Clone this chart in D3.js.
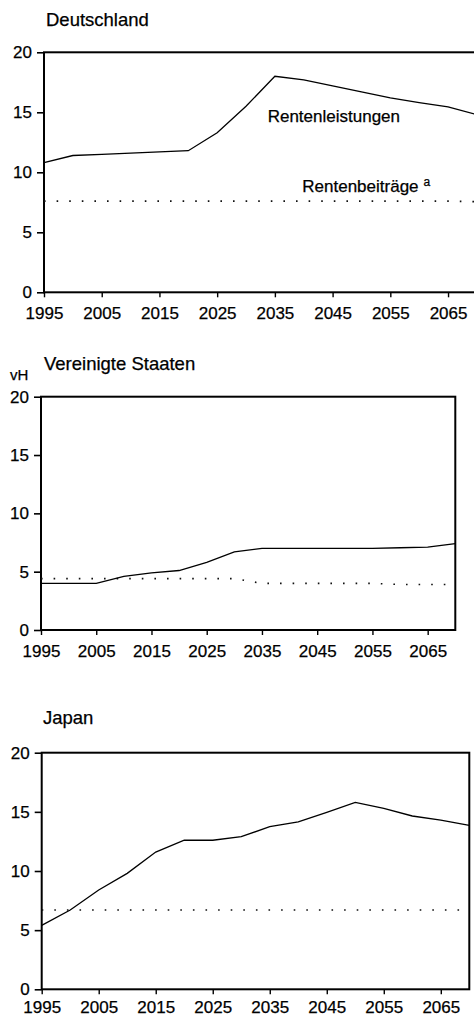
<!DOCTYPE html>
<html>
<head>
<meta charset="utf-8">
<script src="https://cdn.jsdelivr.net/npm/d3@7"></script>
<style>
  html, body { margin: 0; padding: 0; background: #fff; }
  svg { display: block; font-family: "Liberation Sans", Arial, Helvetica, sans-serif; }
  text { stroke: #000; stroke-width: 0.25px; }
</style>
</head>
<body>
<svg id="chart" width="474" height="1018"></svg>
<script>
// ---- data ----
const years = [1995, 2000, 2005, 2010, 2015, 2020, 2025, 2030, 2035, 2040, 2045, 2050, 2055, 2060, 2065, 2070];
const xTickValues = [1995, 2005, 2015, 2025, 2035, 2045, 2055, 2065];
const yTickValues = [0, 5, 10, 15, 20];
const panelTitles = ["Deutschland", "Vereinigte Staaten", "Japan"];
const unitLabel = "vH";
const seriesLabels = ["Rentenleistungen", "Rentenbeiträge"];
const footnoteMark = "a";

const deLeistungen = [10.8, 11.4, 11.5, 11.6, 11.7, 11.8, 13.3, 15.5, 18.0, 17.7, 17.2, 16.7, 16.2, 15.8, 15.45, 14.8];
const deBeitraege  = [7.6, 7.6, 7.6, 7.6, 7.6, 7.6, 7.6, 7.6, 7.6, 7.6, 7.6, 7.6, 7.6, 7.6, 7.6, 7.55];
const usLeistungen = [4.0, 4.0, 4.0, 4.6, 4.9, 5.1, 5.8, 6.7, 7.0, 7.0, 7.0, 7.0, 7.0, 7.05, 7.1, 7.4];
const usBeitraege  = [4.4, 4.4, 4.4, 4.4, 4.4, 4.4, 4.4, 4.4, 4.0, 4.0, 4.0, 4.0, 4.0, 3.9, 3.9, 3.9];
const jpLeistungen = [5.4, 6.7, 8.4, 9.8, 11.6, 12.6, 12.6, 12.9, 13.75, 14.15, 14.95, 15.8, 15.3, 14.65, 14.3, 13.85];
const jpBeitraege  = [6.7, 6.7, 6.7, 6.7, 6.7, 6.7, 6.7, 6.7, 6.7, 6.7, 6.7, 6.7, 6.7, 6.7, 6.7, 6.7];

// ---- layout ----
const panels = [
  { title: panelTitles[0], lei: deLeistungen, bei: deBeitraege, x0: 44, x1: 476.9, yTop: 52.3, yBot: 292.3, titleX: 46, titleY: 26, pad: 10, labels: true },
  { title: panelTitles[1], lei: usLeistungen, bei: usBeitraege, x0: 41, x1: 455.3, yTop: 396.7, yBot: 630, titleX: 44, titleY: 370, pad: 10, unit: true },
  { title: panelTitles[2], lei: jpLeistungen, bei: jpBeitraege, x0: 41.7, x1: 469.3, yTop: 752.7, yBot: 989.3, titleX: 43, titleY: 724, pad: 6.5 }
];

const svg = d3.select("#chart");
const fontSize = 17;

panels.forEach(p => {
  const x = d3.scaleLinear().domain([1995, 2070]).range([p.x0, p.x1]);
  const y = d3.scaleLinear().domain([0, 20]).range([p.yBot, p.yTop]);
  const g = svg.append("g");

  // title
  g.append("text").attr("x", p.titleX).attr("y", p.titleY)
    .attr("font-size", 18.5).attr("fill", "#000").text(p.title);
  if (p.unit) {
    g.append("text").attr("x", 10).attr("y", 380)
      .attr("font-size", 15).attr("fill", "#000").text(unitLabel);
  }

  // y axis
  const ya = g.append("g").attr("transform", `translate(${p.x0},0)`)
    .call(d3.axisLeft(y).tickValues(yTickValues).tickSize(7).tickSizeOuter(0).tickPadding(5).tickFormat(d3.format("d")));
  ya.select(".domain").remove();
  ya.selectAll(".tick line").attr("stroke", "#000").attr("stroke-width", 1.6);
  ya.selectAll(".tick text").attr("font-size", fontSize).attr("fill", "#000").attr("font-family", null);

  // x axis
  const xa = g.append("g").attr("transform", `translate(0,${p.yBot})`)
    .call(d3.axisBottom(x).tickValues(xTickValues).tickSize(5).tickSizeOuter(0).tickPadding(p.pad).tickFormat(d3.format("d")));
  xa.select(".domain").remove();
  xa.selectAll(".tick line").attr("stroke", "#000").attr("stroke-width", 1.4);
  xa.selectAll(".tick text").attr("font-size", fontSize).attr("fill", "#000").attr("font-family", null);

  // frame
  g.append("rect")
    .attr("x", x(1995)).attr("y", y(20))
    .attr("width", x(2070) - x(1995)).attr("height", y(0) - y(20))
    .attr("fill", "none").attr("stroke", "#000").attr("stroke-width", 2);

  const line = d3.line().x((d, i) => x(years[i])).y(d => y(d));

  // Beiträge (dotted)
  g.append("path").datum(p.bei).attr("d", line)
    .attr("fill", "none").attr("stroke", "#111").attr("stroke-width", 1.6)
    .attr("stroke-dasharray", "1.6,11").attr("stroke-linecap", "butt");

  // Leistungen (solid)
  g.append("path").datum(p.lei).attr("d", line)
    .attr("fill", "none").attr("stroke", "#000").attr("stroke-width", 1.3);

  if (p.labels) {
    g.append("text").attr("x", 267.7).attr("y", 121.5)
      .attr("font-size", fontSize).attr("fill", "#000").text(seriesLabels[0]);
    const t = g.append("text").attr("x", 302.3).attr("y", 191.5)
      .attr("font-size", fontSize).attr("fill", "#000");
    t.append("tspan").text(seriesLabels[1]);
    t.append("tspan").attr("dx", 5).attr("dy", -6).attr("font-size", 12).text(footnoteMark);
  }
});
</script>
</body>
</html>
